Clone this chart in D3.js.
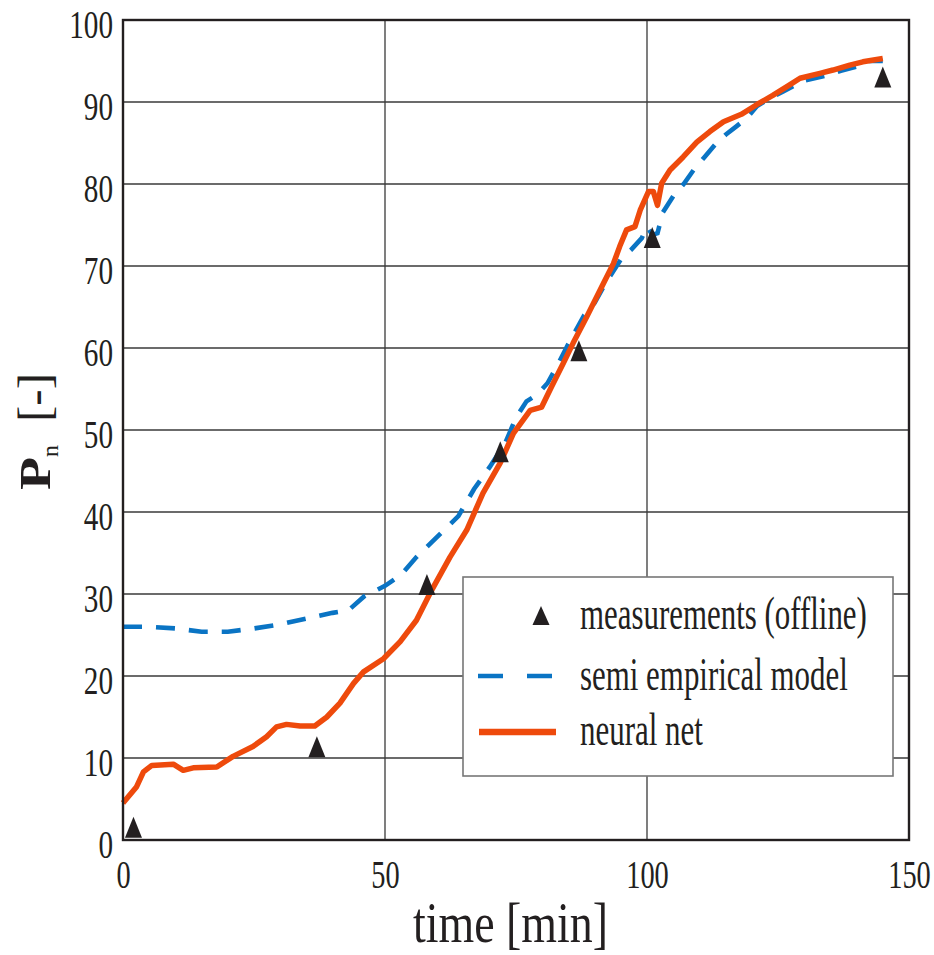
<!DOCTYPE html>
<html>
<head>
<meta charset="utf-8">
<script src="https://cdn.jsdelivr.net/npm/d3@7"></script>
<style>
  html, body { margin: 0; padding: 0; background: #fff; }
  text { font-family: "Liberation Serif", "Times New Roman", serif; fill: #231f20; }
</style>
</head>
<body>
<script>
// data
const measTime = [2, 37, 58, 72, 87, 101, 145];
const measValue = [1.5, 11.3, 31.1, 47.3, 59.6, 73.4, 93.0];

const semiTime = [0, 5, 10, 15, 20, 25, 30, 35, 40, 43, 46, 50, 53, 56, 60, 64, 67, 70, 73, 75, 77, 79, 81, 83, 85, 88, 90, 92, 95, 97, 99, 100, 101, 102, 103, 105, 107, 109, 111, 113, 115, 117, 119, 121, 123, 126, 130, 134, 137, 140, 142, 145];
const semiValue = [26.0, 26.0, 25.8, 25.4, 25.4, 25.8, 26.3, 27.0, 27.7, 28.0, 29.7, 31.0, 32.3, 34.5, 37.0, 39.5, 42.8, 45.5, 48.5, 51.5, 53.5, 54.3, 55.7, 58.0, 60.5, 64.0, 65.5, 67.8, 70.8, 72.0, 73.4, 74.8, 73.8, 74.0, 76.5, 78.5, 80.0, 81.8, 83.3, 84.8, 86.0, 87.0, 88.0, 89.5, 90.3, 91.3, 92.6, 93.2, 93.8, 94.3, 95.0, 95.0];

const netTime = [0, 2.6, 3.9, 5.5, 9.6, 11.5, 13.4, 17.9, 21, 24.8, 27.4, 29.3, 31.2, 33.8, 36.6, 38.9, 41.4, 44, 45.9, 49.7, 52.9, 56, 58.6, 62.4, 65.6, 68.7, 72, 74.5, 77.7, 79.9, 81.8, 84, 85.9, 88.5, 91.7, 93.6, 94.8, 96.1, 97.7, 98.7, 100.3, 101.2, 102, 102.8, 104.4, 106.9, 109.5, 112, 114.6, 118, 121, 124, 127, 129.2, 133, 135.5, 138.7, 141.2, 145];
const netValue = [4.5, 6.5, 8.3, 9.1, 9.25, 8.5, 8.8, 8.9, 10.2, 11.4, 12.6, 13.8, 14.1, 13.9, 13.9, 15.0, 16.7, 19.1, 20.5, 22.1, 24.2, 26.8, 30.1, 34.5, 37.8, 42.3, 46.0, 49.6, 52.4, 52.8, 55.3, 58.1, 60.6, 63.8, 67.9, 70.3, 72.4, 74.4, 74.8, 76.8, 79.1, 79.1, 77.4, 80.1, 81.7, 83.3, 85.1, 86.4, 87.6, 88.5, 89.7, 90.8, 92.0, 92.9, 93.5, 93.9, 94.5, 94.9, 95.3];

const xTicks = [0, 50, 100, 150];
const yTicks = [0, 10, 20, 30, 40, 50, 60, 70, 80, 90, 100];
const legendLabels = ["measurements (offline)", "semi empirical model", "neural net"];

const width = 934, height = 955;
const plotL = 123, plotR = 909, plotT = 20, plotB = 840;
const ink = "#231f20", blue = "#0a74c4", orange = "#ee4a0c";

const svg = d3.select("body").append("svg")
  .attr("width", width).attr("height", height);

const x = d3.scaleLinear().domain([0, 150]).range([plotL, plotR]);
const y = d3.scaleLinear().domain([0, 100]).range([plotB, plotT]);

// the original type is tall and narrow: squeeze text horizontally
function squeeze(sel, s) {
  sel.each(function () {
    const t = d3.select(this);
    const x0 = +t.attr("x") || 0;
    t.attr("x", x0 / s).attr("transform", `scale(${s},1)`);
  });
}
// place a text at (px,py) and squeeze it to a given width
function fitText(parent, str, px, py, size, w, weight) {
  const t = parent.append("text").attr("font-size", size).text(str);
  if (weight) t.attr("font-weight", weight);
  const s = w / t.node().getComputedTextLength();
  t.attr("transform", `translate(${px},${py}) scale(${s},1)`);
  return t;
}

// grid
svg.append("g").selectAll("line").data(yTicks.slice(1, -1)).join("line")
  .attr("x1", plotL).attr("x2", plotR)
  .attr("y1", d => y(d)).attr("y2", d => y(d))
  .attr("stroke", "#3a3a3a").attr("stroke-width", 1.3);
svg.append("g").selectAll("line").data(xTicks.slice(1, -1)).join("line")
  .attr("y1", plotT).attr("y2", plotB)
  .attr("x1", d => x(d)).attr("x2", d => x(d))
  .attr("stroke", "#3a3a3a").attr("stroke-width", 1.3);

// axes (labels only, frame drawn separately)
const yAxis = svg.append("g").attr("transform", `translate(${plotL},0)`)
  .call(d3.axisLeft(y).tickValues(yTicks).tickSize(0).tickPadding(10));
yAxis.select(".domain").remove();
yAxis.selectAll("text")
  .attr("dy", 17).attr("font-size", 40)
  .style("font-family", "Liberation Serif");
squeeze(yAxis.selectAll("text"), 0.73);

const xAxis = svg.append("g").attr("transform", `translate(0,${plotB})`)
  .call(d3.axisBottom(x).tickValues(xTicks).tickSize(0).tickPadding(0));
xAxis.select(".domain").remove();
xAxis.selectAll("text")
  .attr("y", 48).attr("dy", 0).attr("font-size", 40)
  .style("font-family", "Liberation Serif");
squeeze(xAxis.selectAll("text"), 0.71);

// lines
const line = d3.line().x(d => x(d[0])).y(d => y(d[1]));

svg.append("path")
  .datum(d3.zip(semiTime, semiValue))
  .attr("d", line)
  .attr("fill", "none").attr("stroke", blue)
  .attr("stroke-width", 4.6).attr("stroke-dasharray", "19,14");

svg.append("path")
  .datum(d3.zip(netTime, netValue))
  .attr("d", line)
  .attr("fill", "none").attr("stroke", orange)
  .attr("stroke-width", 5.5).attr("stroke-linejoin", "round");

// measurement markers
const tri = "M0,-11L8.5,10L-8.5,10Z";
svg.append("g").selectAll("path").data(d3.zip(measTime, measValue)).join("path")
  .attr("d", tri)
  .attr("transform", d => `translate(${x(d[0])},${y(d[1])})`)
  .attr("fill", ink);

// frame
svg.append("rect")
  .attr("x", plotL).attr("y", plotT)
  .attr("width", plotR - plotL).attr("height", plotB - plotT)
  .attr("fill", "none").attr("stroke", ink).attr("stroke-width", 2.4);

// legend
const lg = svg.append("g");
lg.append("rect")
  .attr("x", 463).attr("y", 577).attr("width", 430).attr("height", 199)
  .attr("fill", "#fff").attr("stroke", "#777").attr("stroke-width", 1.6);
lg.append("path").attr("d", tri)
  .attr("transform", "translate(541,616) scale(1,0.9)").attr("fill", ink);
lg.append("line")
  .attr("x1", 478).attr("x2", 552).attr("y1", 676).attr("y2", 676)
  .attr("stroke", blue).attr("stroke-width", 4.6).attr("stroke-dasharray", "25,24");
lg.append("line")
  .attr("x1", 479).attr("x2", 556).attr("y1", 732).attr("y2", 732)
  .attr("stroke", orange).attr("stroke-width", 6.5);
const legendBase = [629, 690, 745];
const legendLen = [287, 268, 123];
legendLabels.forEach((d, i) => fitText(lg, d, 580, legendBase[i], 46, legendLen[i]));

// axis titles
fitText(svg, "time [min]", 413, 942, 58, 195);

const yl = svg.append("g").attr("transform", "translate(50,490) rotate(-90)");
fitText(yl, "P", 0, 0, 45, 33, "bold");
yl.append("text").attr("x", 33).attr("y", 8)
  .attr("font-size", 24)
  .text("n");
fitText(yl, "[-]", 68, 0, 46, 49);
</script>
</body>
</html>
